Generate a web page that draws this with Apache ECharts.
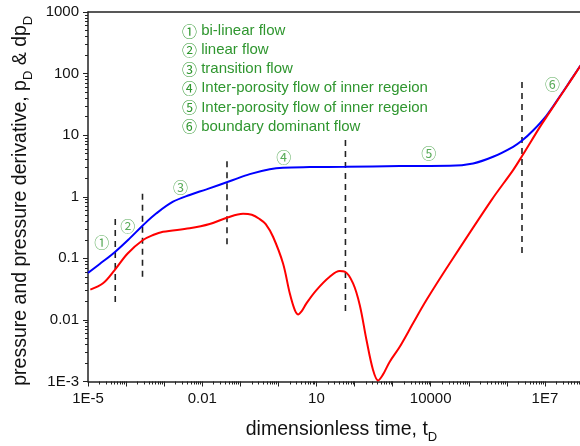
<!DOCTYPE html>
<html><head><meta charset="utf-8">
<script src="https://cdn.jsdelivr.net/npm/echarts@6/dist/echarts.min.js"></script>
<style>html,body{margin:0;padding:0;background:#fff}#c{width:580px;height:446px}</style>
</head><body><div id="c"></div>
<script>
// pressure (blue)
const timeP = [1e-5, 2.03e-5, 5.02e-5, 1.245e-4, 2.79e-4, 6.27e-4, 1.71e-3, 4.69e-3, 0.0129, 0.0644, 0.177, 0.593, 1.32, 6.67, 57.7, 1550, 31700, 1.3e5, 4.35e5, 1.46e6, 2.51e6, 4.88e6, 1.1e7, 2.45e7, 4.5e7, 8.24e7, 1e8];
const pD = [0.058, 0.081, 0.126, 0.211, 0.345, 0.538, 0.83, 1.07, 1.32, 1.87, 2.33, 2.79, 2.96, 3.03, 3.07, 3.15, 3.18, 3.48, 4.46, 6.48, 8.17, 11.9, 20.8, 42.4, 74.1, 130, 158];
// pressure derivative (red)
const timeDer = [1.15e-5, 2.48e-5, 5.02e-5, 1.1e-4, 2.79e-4, 5.1e-4, 9.33e-4, 4.69e-3, 0.0157, 0.0443, 0.118, 0.2, 0.324, 0.465, 0.724, 1.32, 1.99, 2.69, 3.28, 4.1, 5.45, 9.98, 22.3, 40.9, 55.4, 91.5, 137, 206, 306, 415, 551, 841, 1540, 3440, 7740, 31700, 3.95e5, 1.46e6, 2.51e6, 7.33e6, 1.1e7, 2.45e7, 4.5e7, 8.24e7, 1e8];
const dpD = [0.031, 0.0393, 0.0646, 0.12, 0.198, 0.239, 0.27, 0.307, 0.36, 0.456, 0.53, 0.51, 0.434, 0.36, 0.224, 0.083, 0.027, 0.0145, 0.0123, 0.0139, 0.0186, 0.0305, 0.0502, 0.0622, 0.061, 0.0393, 0.0175, 0.00472, 0.00154, 0.00104, 0.00128, 0.0021, 0.00367, 0.00881, 0.021, 0.083, 0.883, 2.71, 4.58, 13.5, 19.8, 41.7, 73.3, 129, 155];
// flow-regime boundaries (dashed lines)
const boundaryTimes = [5.2e-5, 2.7e-4, 0.0447, 57.7, 2.5e6];
const boundaryLow = [0.0195, 0.05, 0.17, 0.0139, 0.122];
const boundaryHigh = [0.45, 1.15, 3.94, 8.97, 81];
// regime markers
const stageMarks = ['①', '②', '③', '④', '⑤', '⑥'];
const stageTimes = [2.3e-5, 1.1e-4, 2.7e-3, 1.38, 8900, 1.58e7];
const stageValues = [0.184, 0.334, 1.44, 4.4, 5.1, 67];
const legendTexts = ['bi-linear flow', 'linear flow', 'transition flow', 'Inter-porosity flow of inner regeion', 'Inter-porosity flow of inner regeion', 'boundary dominant flow'];
// tick labels
const xTickValues = [1e-5, 1e-2, 10, 1e4, 1e7];
const xTickLabels = ['1E-5', '0.01', '10', '10000', '1E7'];
const yTickValues = [1e-3, 1e-2, 0.1, 1, 10, 100, 1000];
const yTickLabels = ['1E-3', '0.01', '0.1', '1', '10', '100', '1000'];

const FONT = 'Arial, "Liberation Sans", "Noto Sans CJK SC", sans-serif';
const CJK = '"Noto Sans CJK SC", "Noto Sans CJK JP", sans-serif';
const GREEN = '#2f962f';
const AX = '#222';

function labelFor(values, labels) {
  return function (v) {
    for (let i = 0; i < values.length; i++) {
      if (Math.abs(Math.log10(v) - Math.log10(values[i])) < 1e-6) return labels[i];
    }
    return '';
  };
}
const zip = (a, b) => a.map((x, i) => [x, b[i]]);

const series = [
  { type: 'line', name: 'pD', data: zip(timeP, pD), showSymbol: false, symbol: 'none', smooth: 0.35,
    lineStyle: { color: '#0000ff', width: 2 }, z: 5 },
  { type: 'line', name: 'dpD', data: zip(timeDer, dpD), showSymbol: false, symbol: 'none', smooth: 0.35,
    lineStyle: { color: '#ff0000', width: 2 }, z: 5 }
];
boundaryTimes.forEach((t, i) => {
  series.push({ type: 'line', data: [[t, boundaryLow[i]], [t, boundaryHigh[i]]], symbol: 'none',
    lineStyle: { color: AX, width: 1.6, type: [6, 5] }, z: 3, silent: true });
});
series.push({
  type: 'scatter', data: zip(stageTimes, stageValues), symbolSize: 1,
  itemStyle: { color: 'rgba(0,0,0,0)' }, z: 6,
  label: { show: true, position: 'inside', formatter: p => stageMarks[p.dataIndex],
    color: GREEN, fontSize: 15, fontFamily: CJK }
});

const graphic = legendTexts.map((t, i) => ({
  type: 'text', x: 182, y: 31 + 19.1 * i,
  style: {
    text: '{c|' + stageMarks[i] + '}{t| ' + t + '}', verticalAlign: 'middle',
    rich: { c: { fill: GREEN, color: GREEN, fontSize: 15, fontFamily: CJK },
            t: { fill: GREEN, color: GREEN, fontSize: 15, fontFamily: FONT } }
  }
}));

const nameStyle = {
  color: '#111', fontFamily: FONT,
  rich: { a: { fontSize: 19.5, fontFamily: FONT, color: '#111' },
          sub: { fontSize: 13, fontFamily: FONT, color: '#111', padding: [15, 0, 0, 0] } }
};

const chart = echarts.init(document.getElementById('c'), null, { renderer: 'canvas' });
chart.setOption({
  animation: false,
  backgroundColor: '#fff',
  grid: { left: 88, top: 12, width: 495, height: 369.5, containLabel: false, outerBoundsMode: 'none' },
  xAxis: [{
    type: 'log', logBase: 10, min: 1e-5, max: 1e8, interval: 1,
    name: '{a|dimensionless time, t}{sub|D}', nameLocation: 'middle', nameGap: 34,
    nameTextStyle: Object.assign({}, nameStyle, { padding: [0, 0, 0, 12] }),
    axisLine: { show: true, onZero: false, lineStyle: { color: AX, width: 1.5 } },
    axisTick: { show: true, length: 5, lineStyle: { color: AX, width: 1 } },
    minorTick: { show: true, splitNumber: 9, length: 3, lineStyle: { color: AX, width: 1 } },
    splitLine: { show: false }, minorSplitLine: { show: false },
    axisLabel: { formatter: labelFor(xTickValues, xTickLabels), fontSize: 15, color: '#111', fontFamily: FONT, margin: 10, showMaxLabel: false }
  }, {
    type: 'log', logBase: 10, min: 1e-5, max: 1e8, position: 'top',
    axisLine: { show: true, onZero: false, lineStyle: { color: AX, width: 1.5 } },
    axisTick: { show: false }, axisLabel: { show: false }, splitLine: { show: false }
  }],
  yAxis: [{
    type: 'log', logBase: 10, min: 1e-3, max: 1000, interval: 1,
    name: '{a|pressure and pressure derivative, p}{sub|D}{a| & dp}{sub|D}', nameLocation: 'middle', nameGap: 53, nameRotate: 90,
    nameTextStyle: Object.assign({}, nameStyle, { padding: [0, 8, 0, 0] }),
    axisLine: { show: true, onZero: false, lineStyle: { color: AX, width: 1.5 } },
    axisTick: { show: true, length: 5, lineStyle: { color: AX, width: 1 } },
    minorTick: { show: true, splitNumber: 9, length: 3, lineStyle: { color: AX, width: 1 } },
    splitLine: { show: false }, minorSplitLine: { show: false },
    axisLabel: { formatter: labelFor(yTickValues, yTickLabels), fontSize: 15, color: '#111', fontFamily: FONT, margin: 9 }
  }],
  graphic: graphic,
  series: series
});
</script></body></html>
